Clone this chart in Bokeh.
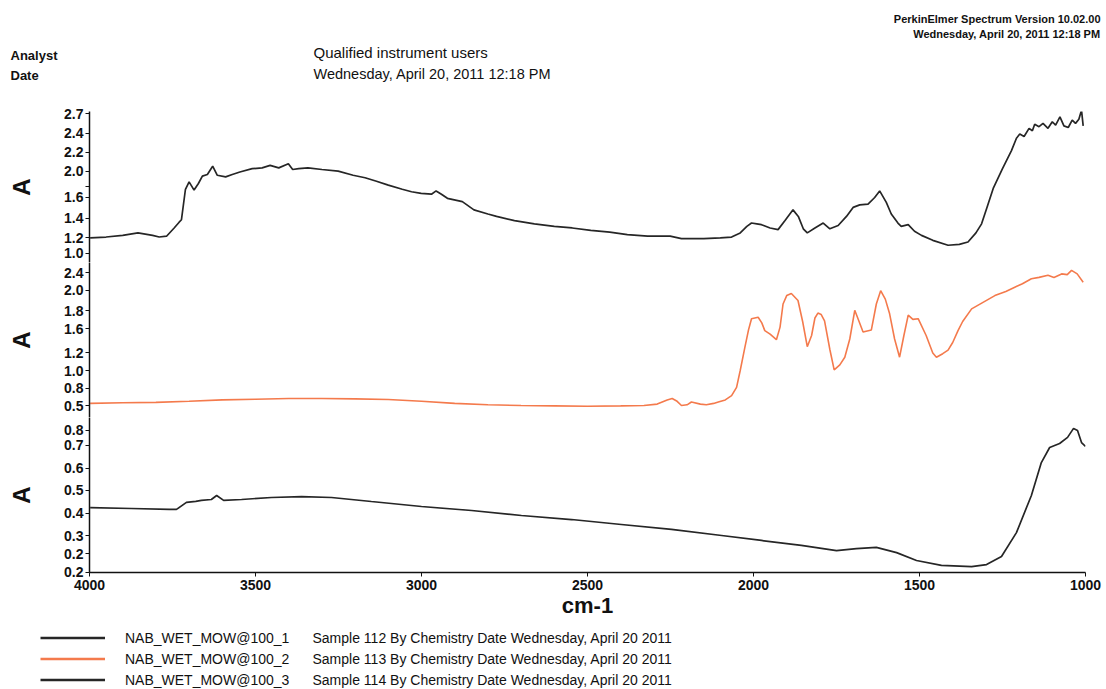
from bokeh.plotting import figure
from bokeh.layouts import column
from bokeh.models import (Range1d, FixedTicker, CustomJSTickFormatter, Label,
                          Legend, LegendItem)
from bokeh.embed import file_html
from bokeh.resources import INLINE

# ---------------- data ----------------
wn_1 = [3998, 3950, 3900, 3854, 3810, 3790, 3768, 3745, 3730, 3723, 3711, 3700, 3685,
        3672, 3660, 3645, 3629, 3615, 3590, 3570, 3547, 3510, 3480, 3456, 3430, 3401,
        3388, 3370, 3342, 3300, 3251, 3206, 3170, 3138, 3100, 3058, 3030, 3001, 2970,
        2956, 2940, 2922, 2877, 2842, 2800, 2774, 2720, 2660, 2600, 2546, 2490, 2433,
        2380, 2319, 2251, 2217, 2150, 2100, 2066, 2040, 2020, 2006, 1990, 1976, 1950,
        1926, 1905, 1881, 1865, 1850, 1838, 1815, 1790, 1770, 1745, 1720, 1700, 1680,
        1655, 1635, 1620, 1600, 1585, 1565, 1555, 1534, 1515, 1494, 1460, 1414, 1380,
        1354, 1330, 1313, 1295, 1278, 1250, 1223, 1208, 1198, 1185, 1170, 1160, 1153,
        1140, 1128, 1113, 1100, 1090, 1077, 1065, 1052, 1040, 1030, 1020, 1012, 1007]
abs_1 = [1.19, 1.20, 1.22, 1.25, 1.22, 1.20, 1.21, 1.31, 1.38, 1.41, 1.78, 1.87, 1.77,
         1.85, 1.94, 1.96, 2.06, 1.95, 1.93, 1.96, 1.99, 2.03, 2.04, 2.07, 2.04, 2.09,
         2.02, 2.03, 2.04, 2.02, 2.00, 1.95, 1.92, 1.88, 1.83, 1.78, 1.75, 1.73, 1.72,
         1.76, 1.72, 1.67, 1.63, 1.53, 1.48, 1.45, 1.40, 1.36, 1.33, 1.31, 1.28, 1.26,
         1.23, 1.21, 1.21, 1.18, 1.18, 1.19, 1.20, 1.25, 1.33, 1.37, 1.36, 1.35, 1.31,
         1.29, 1.40, 1.53, 1.45, 1.30, 1.25, 1.31, 1.37, 1.30, 1.34, 1.45, 1.56, 1.59,
         1.60, 1.68, 1.76, 1.62, 1.48, 1.37, 1.33, 1.35, 1.27, 1.22, 1.16, 1.10, 1.11,
         1.14, 1.25, 1.36, 1.58, 1.79, 2.03, 2.25, 2.40, 2.45, 2.42, 2.52, 2.49, 2.57,
         2.54, 2.58, 2.52, 2.60, 2.56, 2.66, 2.55, 2.53, 2.62, 2.58, 2.63, 2.74, 2.55]

wn_2 = [3998, 3900, 3800, 3700, 3600, 3500, 3400, 3300, 3200, 3100, 3000, 2900, 2800,
        2700, 2600, 2500, 2400, 2330, 2290, 2260, 2245, 2230, 2217, 2200, 2187, 2160,
        2142, 2120, 2106, 2085, 2066, 2051, 2040, 2026, 2015, 2006, 1986, 1975, 1966,
        1950, 1931, 1920, 1911, 1900, 1886, 1866, 1852, 1838, 1825, 1815, 1806, 1796,
        1786, 1770, 1757, 1740, 1725, 1710, 1695, 1682, 1670, 1645, 1630, 1617, 1603,
        1590, 1575, 1560, 1547, 1534, 1520, 1504, 1480, 1460, 1449, 1430, 1414, 1400,
        1384, 1370, 1343, 1310, 1273, 1240, 1213, 1190, 1163, 1140, 1113, 1095, 1072,
        1055, 1042, 1025, 1007]
abs_2 = [0.53, 0.54, 0.545, 0.56, 0.58, 0.59, 0.60, 0.60, 0.595, 0.585, 0.56, 0.53, 0.51,
         0.50, 0.495, 0.49, 0.495, 0.50, 0.52, 0.58, 0.60, 0.56, 0.50, 0.51, 0.55, 0.52,
         0.51, 0.53, 0.55, 0.58, 0.64, 0.76, 1.00, 1.33, 1.58, 1.74, 1.76, 1.68, 1.57,
         1.52, 1.44, 1.62, 1.95, 2.07, 2.10, 2.00, 1.70, 1.34, 1.50, 1.75, 1.82, 1.80,
         1.71, 1.30, 1.01, 1.08, 1.19, 1.45, 1.86, 1.70, 1.55, 1.58, 1.95, 2.14, 2.02,
         1.81, 1.45, 1.19, 1.50, 1.79, 1.73, 1.74, 1.50, 1.25, 1.19, 1.24, 1.29, 1.40,
         1.57, 1.70, 1.88, 1.97, 2.07, 2.13, 2.19, 2.24, 2.31, 2.33, 2.36, 2.33, 2.38,
         2.37, 2.43, 2.38, 2.26]

wn_3 = [3998, 3874, 3760, 3738, 3708, 3680, 3663, 3633, 3617, 3596, 3542, 3452, 3361,
        3271, 3151, 3000, 2849, 2699, 2548, 2398, 2247, 2096, 1976, 1856, 1750, 1690,
        1630, 1569, 1509, 1434, 1343, 1298, 1253, 1208, 1163, 1133, 1108, 1078, 1054,
        1036, 1024, 1012, 1000]
abs_3 = [0.424, 0.420, 0.416, 0.416, 0.447, 0.452, 0.456, 0.460, 0.478, 0.456, 0.460,
         0.469, 0.473, 0.469, 0.451, 0.429, 0.411, 0.389, 0.371, 0.349, 0.327, 0.300,
         0.278, 0.256, 0.233, 0.242, 0.247, 0.224, 0.189, 0.167, 0.162, 0.171, 0.207,
         0.313, 0.478, 0.624, 0.691, 0.709, 0.736, 0.776, 0.767, 0.713, 0.696]

x_ticks = [4000, 3500, 3000, 2500, 2000, 1500, 1000]
y1_ticks = [1.0, 1.19, 1.43, 1.68, 1.81, 2.0, 2.23, 2.46, 2.7]
y1_labels = ["1.0", "1.2", "1.4", "1.6", "", "2.0", "2.2", "2.4", "2.7"]
y2_ticks = [0.5, 0.743, 1.0, 1.257, 1.6, 1.857, 2.143, 2.4]
y2_labels = ["0.5", "0.8", "1.0", "1.2", "1.6", "1.8", "2.0", "2.4"]
y3_ticks = [0.136, 0.22, 0.3, 0.398, 0.5, 0.598, 0.7, 0.767]
y3_labels = ["0.2", "0.2", "0.3", "0.4", "0.5", "0.6", "0.7", "0.8"]

series_wn = [wn_1, wn_2, wn_3]
series_abs = [abs_1, abs_2, abs_3]
names = ["NAB_WET_MOW@100_1", "NAB_WET_MOW@100_2", "NAB_WET_MOW@100_3"]
descs = ["Sample 112 By Chemistry Date Wednesday, April 20 2011",
         "Sample 113 By Chemistry Date Wednesday, April 20 2011",
         "Sample 114 By Chemistry Date Wednesday, April 20 2011"]
colors = ["#262626", "#f47a4c", "#262626"]

# ---------------- layout ----------------
W = 1106
FL, FR = 89, 21
FONT = "Liberation Sans"
INK = "#111111"
x_rng = Range1d(4000, 1000)

fmt_code = """
const i = vals.findIndex(v => Math.abs(v - tick) < 1e-6);
return i < 0 ? '' : labs[i];
"""


def base(h, xr, yr, top=0, bottom=0, xtype=None, ytype=None, left=FL, right=FR):
    p = figure(width=W, height=h, x_range=xr, y_range=yr,
               output_backend="svg", toolbar_location=None,
               x_axis_type=xtype, y_axis_type=ytype,
               min_border_left=left, min_border_right=right,
               min_border_top=top, min_border_bottom=bottom)
    p.outline_line_color = None
    p.grid.grid_line_color = None
    return p


def panel(h, ylo, yhi, top, bottom, ticks, labels, with_x):
    p = base(h, x_rng, Range1d(ylo, yhi), top, bottom,
             "linear" if with_x else None, "linear")
    ax = p.yaxis[0]
    ax.ticker = FixedTicker(ticks=ticks)
    ax.formatter = CustomJSTickFormatter(args=dict(vals=ticks, labs=labels), code=fmt_code)
    ax.axis_line_color = INK
    ax.axis_line_width = 1.5
    ax.major_tick_line_color = INK
    ax.major_tick_out = 4
    ax.major_tick_in = 0
    ax.minor_tick_line_color = None
    ax.major_label_standoff = 2
    ax.major_label_text_font = FONT
    ax.major_label_text_font_style = "bold"
    ax.major_label_text_font_size = "14px"
    ax.major_label_text_color = INK
    ax.axis_label = "A"
    ax.axis_label_text_font = FONT
    ax.axis_label_text_font_style = "bold"
    ax.axis_label_text_font_size = "24px"
    ax.axis_label_text_color = INK
    ax.axis_label_standoff = 26
    if with_x:
        xa = p.xaxis[0]
        xa.ticker = FixedTicker(ticks=x_ticks)
        xa.axis_line_color = INK
        xa.axis_line_width = 1.5
        xa.major_tick_line_color = INK
        xa.major_tick_out = 4
        xa.major_tick_in = 0
        xa.minor_tick_line_color = None
        xa.major_label_standoff = 3
        xa.major_label_text_font = FONT
        xa.major_label_text_font_style = "bold"
        xa.major_label_text_font_size = "14px"
        xa.major_label_text_color = INK
        xa.axis_label = "cm-1"
        xa.axis_label_text_font = FONT
        xa.axis_label_text_font_style = "bold"
        xa.axis_label_text_font_size = "22px"
        xa.axis_label_text_color = INK
        xa.axis_label_standoff = 0
    return p


p1 = panel(159, 0.8907, 2.7243, 8, 0, y1_ticks, y1_labels, False)
p1.line(wn_1, abs_1, line_color=colors[0], line_width=1.7)

p2 = panel(155, 0.3286, 2.5429, 0, 0, y2_ticks, y2_labels, False)
p2.line(wn_2, abs_2, line_color=colors[1], line_width=1.6)

p3 = panel(205, 0.1356, 0.8244, 0, 50, y3_ticks, y3_labels, True)
p3.line(wn_3, abs_3, line_color=colors[2], line_width=1.7)


def lab(fig, x, y, t, size, bold=False, align="left", units="data"):
    fig.add_layout(Label(x=x, y=y, x_units=units, y_units=units, text=t,
                         text_font=FONT, text_font_size=size,
                         text_font_style="bold" if bold else "normal",
                         text_align=align, text_baseline="middle",
                         text_color=INK))


# header: full-width frame, data coordinates equal window pixels
hdr = base(103, Range1d(0, W), Range1d(103, 0), left=0, right=0)
hdr.frame_align = False
lab(hdr, 1100, 18, "PerkinElmer Spectrum Version 10.02.00", "11px", True, "right")
lab(hdr, 1100, 33, "Wednesday, April 20, 2011 12:18 PM", "11px", True, "right")
lab(hdr, 10, 55, "Analyst", "13px", True)
lab(hdr, 10, 75, "Date", "13px", True)
lab(hdr, 313, 52, "Qualified instrument users", "15px")
lab(hdr, 313, 73, "Wednesday, April 20, 2011 12:18 PM", "14.5px")

# legend area (series drawn on an out-of-view range, used only as legend sources)
LH = 67
lf = base(LH, Range1d(4000, 1000), Range1d(10, 11), left=0, right=0)
lf.frame_align = False
items = []
for wn, ab, nm, c in zip(series_wn, series_abs, names, colors):
    r = lf.line(wn, ab, line_color=c, line_width=2.5)
    items.append(LegendItem(label=nm, renderers=[r]))
legend = Legend(items=items, location=(40, -1), orientation="vertical",
                glyph_width=65, glyph_height=21, label_height=21, label_standoff=20,
                spacing=0, padding=0, margin=0, border_line_color=None,
                background_fill_alpha=0, label_text_font=FONT,
                label_text_font_size="14px", label_text_color=INK)
lf.add_layout(legend)
for i, d in enumerate(descs):
    lab(lf, 312, LH - 15.5 - 21 * i, d, "14px", units="screen")

page = column(hdr, p1, p2, p3, lf, spacing=0)
open("out.html", "w").write(file_html(page, INLINE))
